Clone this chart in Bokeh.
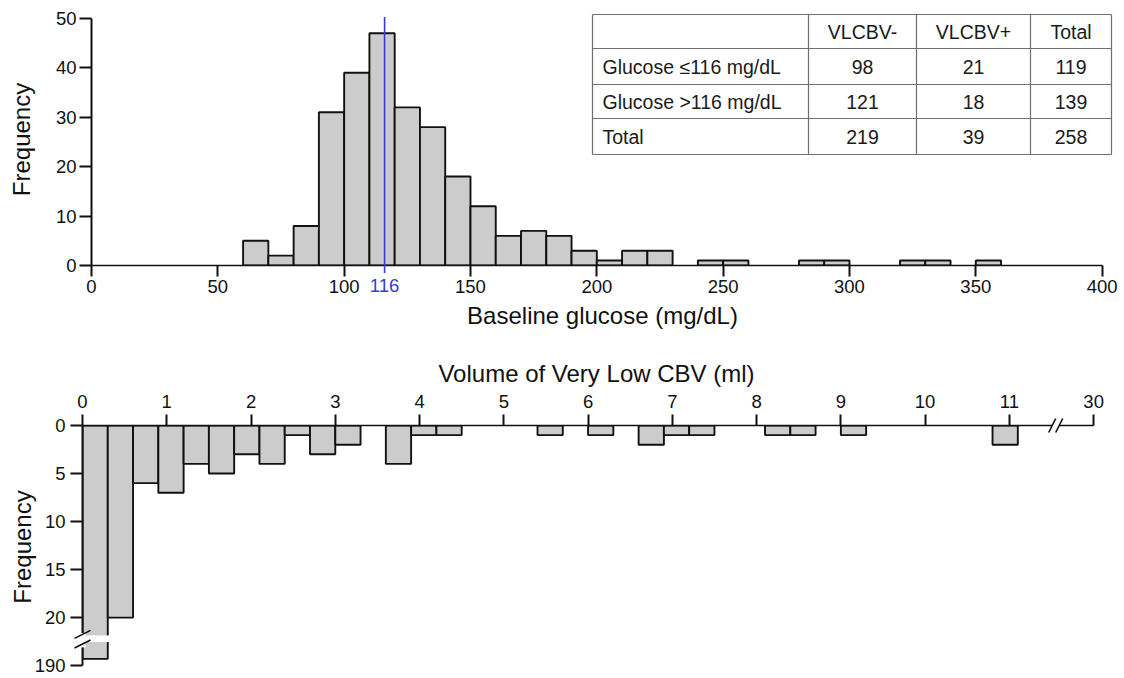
from bokeh.plotting import figure
from bokeh.models import Range1d, FixedTicker
from bokeh.core.properties import value
from bokeh.embed import file_html
from bokeh.resources import INLINE

# ---------------- data ----------------
# Top: baseline glucose histogram (bin width 10 mg/dL)
glucose_bin_edges = [60, 70, 80, 90, 100, 110, 120, 130, 140, 150, 160, 170, 180, 190, 200,
                     210, 220, 230, 240, 250, 260, 270, 280, 290, 300, 310, 320, 330, 340, 350, 360]
glucose_counts = [5, 2, 8, 31, 39, 47, 32, 28, 18, 12, 6, 7, 6, 3, 1,
                  3, 3, 0, 1, 1, 0, 0, 1, 1, 0, 0, 1, 1, 0, 1]
glucose_ticks = [0, 50, 100, 150, 200, 250, 300, 350, 400]
top_freq_ticks = [0, 10, 20, 30, 40, 50]
glucose_threshold = 116

# Contingency table
table_header = ["", "VLCBV-", "VLCBV+", "Total"]
table_row_labels = ["Glucose \u2264116 mg/dL", "Glucose >116 mg/dL", "Total"]
table_vlcbv_neg = [98, 121, 219]
table_vlcbv_pos = [21, 18, 39]
table_total = [119, 139, 258]

# Bottom: volume of very low CBV histogram (bin width 0.3 ml)
volume_bin_edges = [0.0, 0.3, 0.6, 0.9, 1.2, 1.5, 1.8, 2.1, 2.4, 2.7, 3.0, 3.3, 3.6, 3.9, 4.2,
                    4.5, 4.8, 5.1, 5.4, 5.7, 6.0, 6.3, 6.6, 6.9, 7.2, 7.5, 7.8, 8.1, 8.4, 8.7,
                    9.0, 9.3, 9.6, 9.9, 10.2, 10.5, 10.8, 11.1]
volume_counts = [186, 20, 6, 7, 4, 5, 3, 4, 1, 3, 2, 0, 4, 1, 1,
                 0, 0, 0, 1, 0, 1, 0, 2, 1, 1, 0, 0, 1, 1, 0,
                 1, 0, 0, 0, 0, 0, 2]
volume_tick_labels = ["0", "1", "2", "3", "4", "5", "6", "7", "8", "9", "10", "11", "30"]
bottom_freq_tick_labels = ["0", "5", "10", "15", "20", "190"]

# ---------------- style / layout ----------------
FONT = "Liberation Sans"
INK = "#111111"
BAR_FILL = "#cccccc"
BLUE = "#3a3ad8"
TICK_FS = "18.5px"
LABEL_FS = "24px"
TABLE_FS = "19.5px"

W = 1124
# top figure
H1, L1, R1, T1, B1 = 345, 91, 11, 13, 80
X1_MAX, Y1_MAX = 404.5, 51
# bottom figure
H2, L2, R2, T2, B2 = 333, 82, 14, 80, 10
X2_MAX, Y2_MAX = 12.2, 25.3

SX1 = (W - L1 - R1) / X1_MAX
SY1 = (H1 - T1 - B1) / Y1_MAX
SX2 = (W - L2 - R2) / X2_MAX
SY2 = (H2 - T2 - B2) / Y2_MAX
FRAME1_LEFT = L1
FRAME1_BOTTOM = H1 - B1


def top_x(px):
    return (px - FRAME1_LEFT) / SX1


def top_y(py):
    return (FRAME1_BOTTOM - py) / SY1


def style_axis(ax, line_w):
    ax.axis_line_color = INK
    ax.axis_line_width = line_w
    ax.major_tick_line_color = INK
    ax.major_tick_line_width = 2
    ax.major_tick_in = 0
    ax.minor_tick_line_color = None
    ax.major_label_text_font = FONT
    ax.major_label_text_font_size = TICK_FS
    ax.major_label_text_color = INK
    ax.axis_label_text_font = FONT
    ax.axis_label_text_font_size = LABEL_FS
    ax.axis_label_text_font_style = "normal"
    ax.axis_label_text_color = INK


# ================= TOP FIGURE =================
p1 = figure(width=W, height=H1, x_range=Range1d(0, X1_MAX), y_range=Range1d(0, Y1_MAX),
            output_backend="svg", toolbar_location=None,
            min_border_left=L1, min_border_right=R1, min_border_top=T1, min_border_bottom=B1)
p1.outline_line_color = None
p1.xgrid.visible = False
p1.ygrid.visible = False

nz1 = [i for i, c in enumerate(glucose_counts) if c > 0]
p1.quad(left=[glucose_bin_edges[i] for i in nz1],
        right=[glucose_bin_edges[i + 1] for i in nz1],
        bottom=0, top=[glucose_counts[i] for i in nz1],
        fill_color=BAR_FILL, line_color=INK, line_width=1.9)

# threshold line (slightly crossing the axis) and its label
p1.segment(x0=[glucose_threshold], y0=[-1.5], x1=[glucose_threshold], y1=[50.3],
           line_color=BLUE, line_width=1.6, level="overlay")
p1.text(x=[glucose_threshold], y=[0], text=[str(glucose_threshold)], y_offset=20,
        text_color=BLUE, text_font=value(FONT), text_font_size=value(TICK_FS),
        text_align="center", text_baseline="middle", level="overlay")

xa1 = p1.xaxis[0]
style_axis(xa1, 1.3)
xa1.ticker = FixedTicker(ticks=glucose_ticks)
xa1.bounds = (0, 400)
xa1.major_tick_out = 11
xa1.major_label_standoff = 3
xa1.axis_label = "Baseline glucose (mg/dL)"
xa1.axis_label_standoff = 6

ya1 = p1.yaxis[0]
style_axis(ya1, 2)
ya1.ticker = FixedTicker(ticks=top_freq_ticks)
ya1.bounds = (0, 50)
ya1.major_tick_out = 12
ya1.major_label_standoff = 3
ya1.axis_label = "Frequency"
ya1.axis_label_standoff = 18

# ---- contingency table (drawn inside top plot) ----
TBL_COLS_PX = [592, 808, 916, 1030, 1111]
TBL_ROWS_PX = [14, 48, 84, 118, 154]
tx = [top_x(v) for v in TBL_COLS_PX]
ty = [top_y(v) for v in TBL_ROWS_PX]
line_xs, line_ys = [], []
for yv in ty:
    line_xs.append([tx[0], tx[-1]])
    line_ys.append([yv, yv])
for xv in tx:
    line_xs.append([xv, xv])
    line_ys.append([ty[0], ty[-1]])
p1.multi_line(xs=line_xs, ys=line_ys, line_color="#707070", line_width=1.2)

row_centers = [(ty[k] + ty[k + 1]) / 2 for k in range(4)]
col_centers = [(tx[k] + tx[k + 1]) / 2 for k in range(4)]

cx, cy, ct = [], [], []
for j in range(1, 4):
    cx.append(col_centers[j]); cy.append(row_centers[0]); ct.append(table_header[j])
for r in range(3):
    for j, col in enumerate([table_vlcbv_neg, table_vlcbv_pos, table_total]):
        cx.append(col_centers[j + 1]); cy.append(row_centers[r + 1]); ct.append(str(col[r]))
p1.text(x=cx, y=cy, text=ct, text_font=value(FONT), text_font_size=value(TABLE_FS),
        text_color="#1a1a1a", text_align="center", text_baseline="middle")
p1.text(x=[top_x(TBL_COLS_PX[0] + 10)] * 3, y=row_centers[1:], text=table_row_labels,
        text_font=value(FONT), text_font_size=value(TABLE_FS),
        text_color="#1a1a1a", text_align="left", text_baseline="middle")

# ================= BOTTOM FIGURE =================
BREAK_TICK_POS = 25
BREAK_TICK_VAL = 190
BREAK_SCALE = 0.175


def ymap(v):
    return v if v <= 20 else BREAK_TICK_POS - (BREAK_TICK_VAL - v) * BREAK_SCALE


p2 = figure(width=W, height=H2, x_range=Range1d(0, X2_MAX), y_range=Range1d(Y2_MAX, 0),
            x_axis_location="above", output_backend="svg", toolbar_location=None,
            min_border_left=L2, min_border_right=R2, min_border_top=T2, min_border_bottom=B2)
p2.outline_line_color = None
p2.xgrid.visible = False
p2.ygrid.visible = False

nz2 = [i for i, c in enumerate(volume_counts) if c > 0]
p2.quad(left=[volume_bin_edges[i] for i in nz2],
        right=[volume_bin_edges[i + 1] for i in nz2],
        top=0, bottom=[ymap(volume_counts[i]) for i in nz2],
        fill_color=BAR_FILL, line_color=INK, line_width=1.9)

# y-axis break
p2.quad(left=[-10 / SX2, 0], right=[3 / SX2, volume_bin_edges[1] + 2.5 / SX2],
        top=[21.6, 21.85], bottom=[23.1, 22.55],
        fill_color="white", line_color=None, level="overlay")
ys_c = [21.75, 22.75]
p2.segment(x0=[-8 / SX2] * 2, y0=[c + 4 / SY2 for c in ys_c],
           x1=[8 / SX2] * 2, y1=[c - 4 / SY2 for c in ys_c],
           line_color=INK, line_width=1.6, level="overlay")

# x-axis break between 11 and 30
XB = 11.55
p2.quad(left=[XB - 3.5 / SX2], right=[XB + 3.5 / SX2], top=[-2.5 / SY2], bottom=[2.5 / SY2],
        fill_color="white", line_color=None, level="overlay")
xs_c = [XB - 3.5 / SX2, XB + 3.5 / SX2]
p2.segment(x0=[c - 3.5 / SX2 for c in xs_c], y0=[7 / SY2] * 2,
           x1=[c + 3.5 / SX2 for c in xs_c], y1=[-7 / SY2] * 2,
           line_color=INK, line_width=1.6, level="overlay")

xa2 = p2.xaxis[0]
style_axis(xa2, 1.3)
xpos = list(range(len(volume_tick_labels)))
xa2.ticker = FixedTicker(ticks=xpos)
xa2.major_label_overrides = {k: lab for k, lab in zip(xpos, volume_tick_labels)}
xa2.bounds = (0, xpos[-1])
xa2.major_tick_out = 11
xa2.major_label_standoff = 7
xa2.axis_label = "Volume of Very Low CBV (ml)"
xa2.axis_label_standoff = 5

ya2 = p2.yaxis[0]
style_axis(ya2, 2)
ypos = [0, 5, 10, 15, 20, BREAK_TICK_POS]
ya2.ticker = FixedTicker(ticks=ypos)
ya2.major_label_overrides = {k: lab for k, lab in zip(ypos, bottom_freq_tick_labels)}
ya2.bounds = (0, BREAK_TICK_POS)
ya2.major_tick_out = 12
ya2.major_label_standoff = 5
ya2.axis_label = "Frequency"
ya2.axis_label_standoff = -4

# two independent roots stacked vertically (keeps their plot frames unaligned)
open("out.html", "w").write(file_html([p1, p2], INLINE))
